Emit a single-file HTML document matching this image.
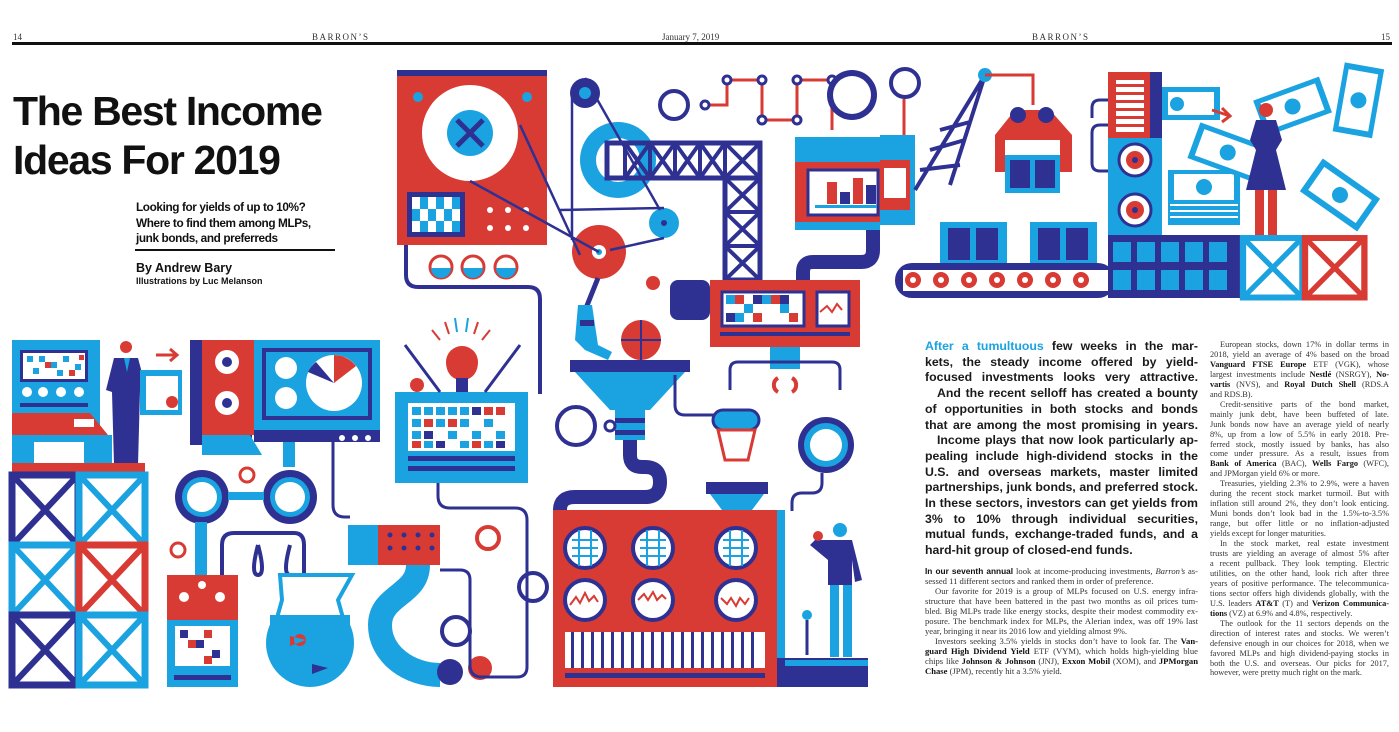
<!DOCTYPE html>
<html><head><meta charset="utf-8">
<style>
html,body{margin:0;padding:0;background:#fff;}
body{width:1399px;height:732px;position:relative;overflow:hidden;font-family:"Liberation Serif",serif;color:#1a1a1a;}
.a{position:absolute;}
.hd{font-size:9px;font-family:"Liberation Serif",serif;color:#333;}
.title{left:13px;top:87px;font-family:"Liberation Sans",sans-serif;font-weight:bold;font-size:41px;line-height:49px;letter-spacing:-1.3px;color:#111;}
.sub{left:136px;top:200px;font-family:"Liberation Sans",sans-serif;font-weight:bold;font-size:11.8px;line-height:15.5px;letter-spacing:-0.4px;color:#111;}
.lead{left:925px;top:339px;width:273px;font-family:"Liberation Sans",sans-serif;font-weight:bold;font-size:12.3px;line-height:15.7px;color:#1a1a1a;}
.lead div,.sm div{text-align:justify;text-align-last:justify;white-space:nowrap;}
.lead div.l,.sm div.l{text-align-last:left;}
.sm{font-size:8.9px;line-height:9.95px;color:#333;}
.sr{font-size:8.3px;}
.ind{padding-left:10px;}
b{font-weight:bold;color:#111;}
</style></head><body>
<div class="a hd" style="left:13px;top:32px;">14</div>
<div class="a hd" style="left:312px;top:32px;letter-spacing:1.5px;">BARRON’S</div>
<div class="a hd" style="left:662px;top:32px;">January 7, 2019</div>
<div class="a hd" style="left:1032px;top:32px;letter-spacing:1.5px;">BARRON’S</div>
<div class="a hd" style="left:1381px;top:32px;">15</div>
<div class="a" style="left:12px;top:42px;width:1380px;height:3px;background:#111;"></div>

<div class="a title">The Best Income<br>Ideas For 2019</div>
<div class="a sub">Looking for yields of up to 10%?<br>Where to find them among MLPs,<br>junk bonds, and preferreds</div>
<div class="a" style="left:135px;top:249px;width:200px;height:2px;background:#111;"></div>
<div class="a" style="left:136px;top:261px;font-family:'Liberation Sans',sans-serif;font-weight:bold;font-size:12.5px;color:#111;">By Andrew Bary</div>
<div class="a" style="left:136px;top:276px;font-family:'Liberation Sans',sans-serif;font-weight:bold;font-size:9px;color:#111;">Illustrations by Luc Melanson</div>

<svg class="a" style="left:0;top:0" width="1399" height="732" viewBox="0 0 1399 732">
<defs>
<g id="xc"><rect x="0" y="0" width="66" height="70" fill="none" stroke-width="7"/><path d="M3 3L63 67M63 3L3 67" stroke-width="6"/></g>
</defs>
<rect x="12" y="340" width="88" height="125" fill="#1aa3e0"/>
<rect x="20" y="350" width="68" height="32" fill="#2e3192"/>
<rect x="23" y="353" width="62" height="26" fill="#fff"/>
<g fill="#1aa3e0"><rect x="27" y="356" width="6" height="6"/><rect x="39" y="356" width="6" height="6"/><rect x="51" y="362" width="6" height="6"/><rect x="63" y="356" width="6" height="6"/><rect x="33" y="368" width="6" height="6"/><rect x="57" y="370" width="6" height="6"/><rect x="75" y="364" width="6" height="6"/></g>
<g fill="#d83a34"><rect x="45" y="362" width="6" height="6"/><rect x="69" y="370" width="6" height="6"/><rect x="79" y="355" width="5" height="5"/></g>
<g fill="#fff"><circle cx="27" cy="392" r="5"/><circle cx="43" cy="392" r="5"/><circle cx="61" cy="392" r="5"/><circle cx="79" cy="392" r="5"/></g>
<rect x="20" y="403" width="68" height="4" fill="#2e3192"/>
<polygon points="12,413 90,413 108,435 12,435" fill="#d83a34"/>
<rect x="12" y="435" width="100" height="30" fill="#1aa3e0"/>
<rect x="34" y="442" width="50" height="23" fill="#fff"/>
<rect x="74" y="419" width="20" height="8" fill="#fff"/>
<circle cx="126" cy="347" r="6" fill="#d83a34"/>
<polygon points="114,358 138,358 146,388 140,390 138,465 114,465 112,392 106,390" fill="#2e3192"/>
<polygon points="124,358 130,358 127,372" fill="#1aa3e0"/>
<path d="M156 355h20M170 349l7 6-7 6" stroke="#d83a34" stroke-width="3" fill="none"/>
<rect x="140" y="370" width="42" height="45" fill="#1aa3e0"/><rect x="146" y="376" width="32" height="34" fill="#fff"/>
<circle cx="172" cy="402" r="6" fill="#d83a34"/>
<rect x="12" y="463" width="133" height="12" fill="#d83a34"/>
<g transform="translate(12,475)"><use href="#xc" stroke="#2e3192"/></g>
<g transform="translate(79,475)"><use href="#xc" stroke="#1aa3e0"/></g>
<g transform="translate(12,545)"><use href="#xc" stroke="#1aa3e0"/></g>
<g transform="translate(79,545)"><use href="#xc" stroke="#d83a34"/></g>
<g transform="translate(12,615)"><use href="#xc" stroke="#2e3192"/></g>
<g transform="translate(79,615)"><use href="#xc" stroke="#1aa3e0"/></g>
<rect x="190" y="340" width="62" height="105" fill="#2e3192"/>
<rect x="202" y="340" width="52" height="95" fill="#d83a34"/>
<circle cx="227" cy="362" r="12" fill="#fff"/><circle cx="227" cy="362" r="5" fill="#2e3192"/>
<circle cx="227" cy="403" r="12" fill="#fff"/><circle cx="227" cy="403" r="5" fill="#2e3192"/>
<rect x="254" y="340" width="126" height="95" fill="#1aa3e0"/>
<rect x="262" y="348" width="110" height="72" fill="#2e3192"/><rect x="266" y="352" width="102" height="64" fill="#1aa3e0"/>
<circle cx="334" cy="383" r="28" fill="#fff"/><path d="M334 383L334 355A28 28 0 0 1 356 366Z" fill="#d83a34"/><path d="M334 383L308 372A28 28 0 0 1 316 362Z" fill="#2e3192"/>
<circle cx="286" cy="368" r="11" fill="#fff"/><circle cx="286" cy="398" r="11" fill="#fff"/>
<rect x="254" y="430" width="126" height="12" fill="#2e3192"/>
<polygon points="202,435 250,435 262,455 202,455" fill="#1aa3e0"/>
<g fill="#fff"><circle cx="342" cy="438" r="3"/><circle cx="355" cy="438" r="3"/><circle cx="368" cy="438" r="3"/></g>
<rect x="283" y="442" width="12" height="25" fill="#1aa3e0"/>
<circle cx="202" cy="497" r="27" fill="#2e3192"/><circle cx="202" cy="497" r="20" fill="#1aa3e0"/><circle cx="202" cy="497" r="15" fill="#fff"/>
<circle cx="290" cy="497" r="27" fill="#2e3192"/><circle cx="290" cy="497" r="20" fill="#1aa3e0"/><circle cx="290" cy="497" r="15" fill="#fff"/>
<rect x="228" y="492" width="36" height="8" fill="#1aa3e0"/>
<circle cx="247" cy="475" r="7" fill="none" stroke="#d83a34" stroke-width="3"/>
<rect x="195" y="522" width="12" height="55" fill="#1aa3e0"/>
<circle cx="178" cy="550" r="7" fill="none" stroke="#d83a34" stroke-width="3"/>
<rect x="167" y="575" width="71" height="45" fill="#d83a34"/>
<g fill="#fff"><circle cx="184" cy="597" r="5"/><circle cx="220" cy="597" r="5"/><circle cx="202" cy="585" r="4"/></g>
<rect x="167" y="620" width="71" height="67" fill="#1aa3e0"/>
<rect x="175" y="626" width="55" height="40" fill="#fff"/>
<g fill="#2e3192"><rect x="180" y="630" width="8" height="8"/><rect x="196" y="640" width="8" height="8"/><rect x="212" y="650" width="8" height="8"/></g>
<g fill="#d83a34"><rect x="188" y="640" width="8" height="8"/><rect x="204" y="630" width="8" height="8"/><rect x="204" y="656" width="8" height="8"/></g>
<rect x="174" y="675" width="57" height="5" fill="#2e3192"/>
<path d="M222 575V545q0-12 12-12h60q10 0 10 12v55M258 545q-8 30 0 30t0-30M290 545q-8 30 0 30" fill="none" stroke="#2e3192" stroke-width="4"/>
<circle cx="310" cy="643" r="44" fill="#1aa3e0"/>
<rect x="282" y="575" width="66" height="35" fill="#fff"/>
<polygon points="280,575 352,575 338,600 345,625 275,625 282,600" fill="#fff" stroke="#1aa3e0" stroke-width="4"/>
<rect x="270" y="615" width="80" height="10" fill="#1aa3e0"/>
<path d="M290 636l16 4-16 6z M306 640a6 6 0 1 0 0 .1" fill="#d83a34"/>
<path d="M312 664l16 4-16 6z" fill="#2e3192"/>
<rect x="348" y="525" width="30" height="40" fill="#1aa3e0"/>
<rect x="378" y="525" width="62" height="40" fill="#d83a34"/>
<g fill="#2e3192"><circle cx="390" cy="535" r="2.5"/><circle cx="404" cy="535" r="2.5"/><circle cx="418" cy="535" r="2.5"/><circle cx="432" cy="535" r="2.5"/><circle cx="390" cy="548" r="2.5"/><circle cx="404" cy="548" r="2.5"/><circle cx="418" cy="548" r="2.5"/><circle cx="432" cy="548" r="2.5"/></g>
<path d="M418 565c0 30-38 30-38 60s30 50 60 50" fill="none" stroke="#1aa3e0" stroke-width="24"/>
<circle cx="450" cy="672" r="13" fill="#2e3192"/>
<circle cx="480" cy="668" r="12" fill="#d83a34"/>
<circle cx="456" cy="631" r="14" fill="#fff" stroke="#2e3192" stroke-width="4"/>
<circle cx="533" cy="587" r="14" fill="#fff" stroke="#2e3192" stroke-width="4"/>
<circle cx="488" cy="538" r="11" fill="#fff" stroke="#d83a34" stroke-width="4"/>
<path d="M440 570h20q10 0 10 10v85q0 12 12 12h35q10 0 10-10V520q0-12-12-12H450q-12 0-12-12V483M333 440v65q0 12 12 12h5" fill="none" stroke="#2e3192" stroke-width="3"/>
<rect x="395" y="392" width="133" height="91" fill="#1aa3e0"/>
<rect x="408" y="403" width="107" height="48" fill="#fff"/>
<g fill="#1aa3e0"><rect x="412" y="407" width="9" height="8"/><rect x="424" y="407" width="9" height="8"/><rect x="436" y="407" width="9" height="8"/><rect x="448" y="407" width="9" height="8"/><rect x="460" y="407" width="9" height="8"/><rect x="412" y="419" width="9" height="8"/><rect x="436" y="419" width="9" height="8"/><rect x="460" y="419" width="9" height="8"/><rect x="484" y="419" width="9" height="8"/><rect x="412" y="431" width="9" height="8"/><rect x="448" y="431" width="9" height="8"/><rect x="472" y="431" width="9" height="8"/><rect x="496" y="431" width="9" height="8"/><rect x="424" y="441" width="9" height="7"/><rect x="460" y="441" width="9" height="7"/><rect x="484" y="441" width="9" height="7"/></g>
<g fill="#d83a34"><rect x="412" y="441" width="9" height="7"/><rect x="448" y="419" width="9" height="8"/><rect x="424" y="419" width="9" height="8"/><rect x="484" y="407" width="9" height="8"/><rect x="496" y="407" width="9" height="8"/><rect x="472" y="441" width="9" height="7"/></g>
<g fill="#2e3192"><rect x="472" y="407" width="9" height="8"/><rect x="424" y="431" width="9" height="8"/><rect x="436" y="441" width="9" height="7"/><rect x="496" y="441" width="9" height="7"/></g>
<rect x="408" y="456" width="107" height="5" fill="#2e3192"/><rect x="408" y="466" width="107" height="5" fill="#2e3192"/>
<path d="M462 380c-12 0-16-10-16-18a16 16 0 0 1 32 0c0 8-4 18-16 18z" fill="#d83a34"/>
<rect x="456" y="378" width="12" height="14" fill="#2e3192"/>
<rect x="410" y="378" width="14" height="14" rx="7" fill="#d83a34"/>
<path d="M440 392L405 345M485 392L520 345" stroke="#2e3192" stroke-width="3"/>
<g stroke="#d83a34" stroke-width="2"><path d="M432 330l8 10M445 322l4 12M478 322l-4 12M490 330l-8 10"/></g>
<g stroke="#1aa3e0" stroke-width="2"><path d="M455 318l2 14M468 318l-2 14"/></g>
<rect x="397" y="70" width="150" height="6" fill="#2e3192"/>
<rect x="397" y="76" width="150" height="169" fill="#d83a34"/>
<circle cx="470" cy="133" r="48" fill="#fff"/><circle cx="470" cy="133" r="23" fill="#1aa3e0"/>
<path d="M457 120L483 146M483 120L457 146" stroke="#2e3192" stroke-width="5"/>
<circle cx="418" cy="97" r="5" fill="#1aa3e0"/><circle cx="527" cy="97" r="5" fill="#1aa3e0"/>
<rect x="407" y="192" width="58" height="45" fill="#2e3192"/><rect x="412" y="197" width="48" height="35" fill="#1aa3e0"/>
<g fill="#fff"><rect x="412" y="197" width="8" height="12"/><rect x="428" y="197" width="8" height="12"/><rect x="444" y="197" width="8" height="12"/><rect x="420" y="209" width="8" height="12"/><rect x="436" y="209" width="8" height="12"/><rect x="452" y="209" width="8" height="12"/><rect x="412" y="221" width="8" height="11"/><rect x="428" y="221" width="8" height="11"/><rect x="444" y="221" width="8" height="11"/></g>
<g fill="#fff"><circle cx="490" cy="210" r="3"/><circle cx="508" cy="210" r="3"/><circle cx="526" cy="210" r="3"/><circle cx="490" cy="228" r="3"/><circle cx="508" cy="228" r="3"/><circle cx="526" cy="228" r="3"/></g>
<g fill="#fff" stroke="#d83a34" stroke-width="3"><circle cx="441" cy="267" r="11"/><circle cx="473" cy="267" r="11"/><circle cx="506" cy="267" r="11"/></g>
<g fill="#1aa3e0"><path d="M431 268h20a10 10 0 0 1-20 0z"/><path d="M463 268h20a10 10 0 0 1-20 0z"/><path d="M496 268h20a10 10 0 0 1-20 0z"/></g>
<path d="M406 245v30q0 12 12 12h110q12 0 12 12v95" fill="none" stroke="#2e3192" stroke-width="4"/>
<circle cx="585" cy="93" r="15" fill="#2e3192"/><circle cx="585" cy="93" r="6" fill="#1aa3e0"/>
<circle cx="618" cy="160" r="38" fill="#1aa3e0"/><circle cx="618" cy="160" r="22" fill="#fff"/>
<circle cx="599" cy="252" r="27" fill="#d83a34"/><circle cx="599" cy="252" r="7" fill="#fff"/><circle cx="599" cy="252" r="3" fill="#1aa3e0"/>
<circle cx="664" cy="223" r="15" fill="#1aa3e0"/><circle cx="664" cy="223" r="3" fill="#2e3192"/>
<path d="M470 181L599 252M520 125L580 255M585 78L660 210M572 93V240M610 250L664 238M560 210L664 208" stroke="#2e3192" stroke-width="2.5" fill="none"/>
<rect x="607" y="143" width="153" height="35" fill="none" stroke="#2e3192" stroke-width="5"/>
<path d="M625 143v35M650 143v35M675 143v35M700 143v35M725 143v35M625 143l25 35M650 143l-25 35M650 143l25 35M675 143l-25 35M675 143l25 35M700 143l-25 35M700 143l25 35M725 143l-25 35M725 143l35 35M760 143l-35 35" stroke="#2e3192" stroke-width="4"/>
<rect x="725" y="178" width="35" height="102" fill="none" stroke="#2e3192" stroke-width="5"/>
<path d="M725 178l35 34M760 178l-35 34M725 212l35 34M760 212l-35 34M725 246l35 34M760 246l-35 34M725 212h35M725 246h35" stroke="#2e3192" stroke-width="4"/>
<path d="M598 278l-12 30" stroke="#2e3192" stroke-width="5"/>
<polygon points="578,305 592,305 598,345 612,352 608,360 585,350 575,340" fill="#1aa3e0"/>
<rect x="580" y="320" width="14" height="6" fill="#2e3192"/>
<path d="M705 105h22V80h35v40h35V80h35v50" fill="none" stroke="#d83a34" stroke-width="3"/>
<g fill="#fff" stroke="#2e3192" stroke-width="3"><circle cx="705" cy="105" r="4"/><circle cx="727" cy="80" r="4"/><circle cx="762" cy="80" r="4"/><circle cx="762" cy="120" r="4"/><circle cx="797" cy="120" r="4"/><circle cx="797" cy="80" r="4"/><circle cx="832" cy="80" r="4"/></g>
<circle cx="674" cy="105" r="14" fill="#fff" stroke="#2e3192" stroke-width="4"/>
<circle cx="852" cy="95" r="25" fill="#2e3192"/><circle cx="852" cy="95" r="19" fill="#fff"/>
<circle cx="905" cy="83" r="14" fill="#fff" stroke="#2e3192" stroke-width="4"/>
<rect x="795" y="137" width="85" height="93" fill="#1aa3e0"/>
<rect x="795" y="162" width="85" height="60" fill="#d83a34"/>
<rect x="808" y="170" width="70" height="45" fill="#fff" stroke="#2e3192" stroke-width="3"/>
<g fill="#d83a34"><rect x="827" y="182" width="10" height="22"/><rect x="853" y="178" width="10" height="26"/></g>
<g fill="#2e3192"><rect x="840" y="192" width="10" height="12"/><rect x="866" y="185" width="10" height="19"/></g>
<rect x="815" y="205" width="62" height="3" fill="#1aa3e0"/>
<path d="M873 230v20q0 12-12 12h-48q-10 0-10 10v10" fill="none" stroke="#2e3192" stroke-width="14"/>
<rect x="670" y="280" width="40" height="40" rx="8" fill="#2e3192"/>
<rect x="710" y="280" width="150" height="67" fill="#d83a34"/>
<rect x="722" y="292" width="82" height="34" fill="#fff" stroke="#2e3192" stroke-width="3"/>
<g fill="#1aa3e0"><rect x="726" y="295" width="9" height="9"/><rect x="744" y="304" width="9" height="9"/><rect x="762" y="295" width="9" height="9"/><rect x="780" y="304" width="9" height="9"/><rect x="735" y="313" width="9" height="9"/></g>
<g fill="#d83a34"><rect x="735" y="295" width="9" height="9"/><rect x="753" y="313" width="9" height="9"/><rect x="771" y="295" width="9" height="9"/><rect x="789" y="313" width="9" height="9"/></g>
<g fill="#2e3192"><rect x="726" y="313" width="9" height="9"/><rect x="753" y="295" width="9" height="9"/><rect x="780" y="295" width="9" height="9"/></g>
<rect x="817" y="292" width="32" height="34" fill="#fff" stroke="#2e3192" stroke-width="3"/>
<path d="M820 312l7-6 5 6 5-8 5 6" stroke="#d83a34" stroke-width="2" fill="none"/>
<rect x="720" y="332" width="130" height="4" fill="#2e3192"/>
<circle cx="653" cy="283" r="7" fill="#d83a34"/>
<rect x="770" y="347" width="30" height="22" fill="#1aa3e0"/>
<path d="M730 390v-20q0-8 8-8h94q8 0 8 8v20" fill="none" stroke="#2e3192" stroke-width="3"/>
<path d="M778 378a8 8 0 0 0 0 14M792 378a8 8 0 0 1 0 14" stroke="#d83a34" stroke-width="4" fill="none"/>
<circle cx="641" cy="340" r="20" fill="#d83a34"/><path d="M621 340h40M641 320v40" stroke="#2e3192" stroke-width="2"/>
<rect x="570" y="360" width="120" height="12" fill="#2e3192"/>
<polygon points="575,372 685,372 650,410 610,410" fill="#1aa3e0"/>
<rect x="615" y="410" width="30" height="30" fill="#1aa3e0"/><rect x="615" y="418" width="30" height="5" fill="#2e3192"/><rect x="615" y="430" width="30" height="5" fill="#2e3192"/>
<path d="M630 440v15q0 12 12 12h3q15 0 15 15t-15 15h-70q-15 0-15 13v13" fill="none" stroke="#2e3192" stroke-width="14"/>
<circle cx="576" cy="426" r="19" fill="#fff" stroke="#2e3192" stroke-width="4"/>
<circle cx="610" cy="426" r="5" fill="#fff" stroke="#2e3192" stroke-width="3"/>
<path d="M675 375v30q0 10 10 10h30" fill="none" stroke="#2e3192" stroke-width="3"/>
<rect x="713" y="410" width="46" height="20" rx="10" fill="#1aa3e0" stroke="#2e3192" stroke-width="3"/>
<polygon points="718,430 755,430 748,460 725,460" fill="#fff" stroke="#d83a34" stroke-width="3"/>
<rect x="706" y="482" width="62" height="12" fill="#2e3192"/>
<polygon points="710,494 764,494 752,510 722,510" fill="#1aa3e0"/>
<circle cx="826" cy="445" r="28" fill="#2e3192"/><circle cx="826" cy="445" r="22" fill="#1aa3e0"/><circle cx="826" cy="445" r="16" fill="#fff"/>
<path d="M822 473v10q0 10-10 10h-10q-10 0-10 10v8" fill="none" stroke="#2e3192" stroke-width="3"/>
<rect x="553" y="510" width="224" height="177" fill="#d83a34"/>
<g fill="#fff" stroke="#2e3192" stroke-width="4"><circle cx="585" cy="548" r="20"/><circle cx="653" cy="548" r="20"/><circle cx="736" cy="548" r="20"/><circle cx="585" cy="600" r="20"/><circle cx="653" cy="600" r="20"/><circle cx="736" cy="600" r="20"/></g>
<g stroke="#1aa3e0" stroke-width="2"><path d="M572 540h26M572 548h26M572 556h26M579 530v36M591 530v36M640 540h26M640 548h26M640 556h26M647 530v36M659 530v36M723 540h26M723 548h26M723 556h26M730 530v36M742 530v36"/></g>
<g stroke="#d83a34" stroke-width="2" fill="none"><path d="M570 605l6-8 4 6 5-10 4 8 5-5 4 6M638 600l6-6 4 6 5-8 4 8 5-5 4 4M721 598l6 6 4-6 5 8 4-8 5 6 4-6"/></g>
<rect x="565" y="632" width="200" height="36" fill="#fff"/>
<g fill="#2e3192"><rect x="571" y="632" width="3" height="36"/><rect x="581" y="632" width="3" height="36"/><rect x="591" y="632" width="3" height="36"/><rect x="601" y="632" width="3" height="36"/><rect x="611" y="632" width="3" height="36"/><rect x="621" y="632" width="3" height="36"/><rect x="631" y="632" width="3" height="36"/><rect x="641" y="632" width="3" height="36"/><rect x="651" y="632" width="3" height="36"/><rect x="661" y="632" width="3" height="36"/><rect x="671" y="632" width="3" height="36"/><rect x="681" y="632" width="3" height="36"/><rect x="691" y="632" width="3" height="36"/><rect x="701" y="632" width="3" height="36"/><rect x="711" y="632" width="3" height="36"/><rect x="721" y="632" width="3" height="36"/><rect x="731" y="632" width="3" height="36"/><rect x="741" y="632" width="3" height="36"/><rect x="751" y="632" width="3" height="36"/></g>
<rect x="565" y="673" width="200" height="5" fill="#2e3192"/>
<rect x="777" y="510" width="8" height="177" fill="#1aa3e0"/>
<rect x="777" y="658" width="91" height="29" fill="#2e3192"/><rect x="785" y="660" width="83" height="6" fill="#1aa3e0"/>
<circle cx="840" cy="530" r="7" fill="#1aa3e0"/>
<polygon points="828,540 852,540 862,580 855,582 852,560 852,585 828,585 828,560 810,545 815,540" fill="#2e3192"/>
<rect x="830" y="585" width="9" height="72" fill="#1aa3e0"/><rect x="843" y="585" width="9" height="72" fill="#1aa3e0"/>
<circle cx="818" cy="536" r="5" fill="#d83a34"/>
<circle cx="807" cy="615" r="5" fill="#1aa3e0"/><path d="M807 620v35" stroke="#2e3192" stroke-width="3"/>
<path d="M904 99v45" stroke="#d83a34" stroke-width="3"/>
<rect x="880" y="135" width="35" height="90" fill="#1aa3e0"/><rect x="880" y="160" width="30" height="50" fill="#d83a34"/><rect x="884" y="168" width="22" height="30" fill="#fff"/>
<path d="M915 190L985 75M950 185L985 75M920 170l40-5M930 150l35-10M940 130l30-8" stroke="#2e3192" stroke-width="4"/>
<circle cx="985" cy="75" r="7" fill="#1aa3e0"/>
<path d="M985 75h48v30" stroke="#d83a34" stroke-width="3" fill="none"/>
<polygon points="995,135 1015,110 1050,110 1072,135 1072,172 1060,172 1060,140 1005,140 1005,172 995,172" fill="#d83a34"/>
<circle cx="1018" cy="115" r="8" fill="#2e3192"/><circle cx="1046" cy="115" r="8" fill="#2e3192"/>
<rect x="1005" y="155" width="55" height="38" fill="#1aa3e0"/><rect x="1010" y="160" width="20" height="28" fill="#2e3192"/><rect x="1035" y="160" width="20" height="28" fill="#2e3192"/>
<rect x="940" y="222" width="67" height="41" fill="#1aa3e0"/><rect x="948" y="228" width="22" height="32" fill="#2e3192"/><rect x="976" y="228" width="22" height="32" fill="#2e3192"/>
<rect x="1030" y="222" width="67" height="41" fill="#1aa3e0"/><rect x="1038" y="228" width="22" height="32" fill="#2e3192"/><rect x="1066" y="228" width="22" height="32" fill="#2e3192"/>
<rect x="895" y="263" width="220" height="35" rx="17" fill="#2e3192"/><rect x="903" y="270" width="210" height="21" fill="#fff"/>
<g fill="#d83a34"><circle cx="913" cy="280" r="8"/><circle cx="941" cy="280" r="8"/><circle cx="969" cy="280" r="8"/><circle cx="997" cy="280" r="8"/><circle cx="1025" cy="280" r="8"/><circle cx="1053" cy="280" r="8"/><circle cx="1081" cy="280" r="8"/></g>
<g fill="#fff"><circle cx="913" cy="280" r="3"/><circle cx="941" cy="280" r="3"/><circle cx="969" cy="280" r="3"/><circle cx="997" cy="280" r="3"/><circle cx="1025" cy="280" r="3"/><circle cx="1053" cy="280" r="3"/><circle cx="1081" cy="280" r="3"/></g>
<rect x="1108" y="72" width="54" height="66" fill="#d83a34"/><rect x="1150" y="72" width="12" height="66" fill="#2e3192"/>
<rect x="1116" y="80" width="28" height="52" fill="#fff"/>
<g fill="#d83a34"><rect x="1116" y="84" width="28" height="3"/><rect x="1116" y="92" width="28" height="3"/><rect x="1116" y="100" width="28" height="3"/><rect x="1116" y="108" width="28" height="3"/><rect x="1116" y="116" width="28" height="3"/><rect x="1116" y="124" width="28" height="3"/></g>
<rect x="1108" y="138" width="54" height="97" fill="#1aa3e0"/>
<circle cx="1135" cy="160" r="16" fill="#fff" stroke="#2e3192" stroke-width="3"/><circle cx="1135" cy="160" r="9" fill="#d83a34"/><circle cx="1135" cy="160" r="3" fill="#2e3192"/>
<circle cx="1135" cy="210" r="16" fill="#fff" stroke="#2e3192" stroke-width="3"/><circle cx="1135" cy="210" r="9" fill="#d83a34"/><circle cx="1135" cy="210" r="3" fill="#2e3192"/>
<path d="M1108 100h-8q-8 0-8 8v10M1108 125h-8q-8 0-8 8v30q0 8 8 8h8" fill="none" stroke="#2e3192" stroke-width="3"/>
<rect x="1108" y="235" width="132" height="63" fill="#2e3192"/>
<g fill="#1aa3e0"><rect x="1113" y="242" width="18" height="20"/><rect x="1137" y="242" width="18" height="20"/><rect x="1161" y="242" width="18" height="20"/><rect x="1185" y="242" width="18" height="20"/><rect x="1209" y="242" width="18" height="20"/><rect x="1113" y="270" width="18" height="20"/><rect x="1137" y="270" width="18" height="20"/><rect x="1161" y="270" width="18" height="20"/><rect x="1185" y="270" width="18" height="20"/><rect x="1209" y="270" width="18" height="20"/></g>
<g transform="translate(1243,238) scale(0.9,0.85)"><use href="#xc" stroke="#1aa3e0"/></g>
<g transform="translate(1305,238) scale(0.9,0.85)"><use href="#xc" stroke="#d83a34"/></g>
<g><rect x="1162" y="87" width="58" height="33" fill="#1aa3e0"/><rect x="1168" y="92" width="46" height="23" fill="#fff"/><circle cx="1177" cy="104" r="7" fill="#1aa3e0"/></g>
<g><rect x="1168" y="170" width="72" height="55" fill="#1aa3e0"/><rect x="1174" y="174" width="60" height="26" fill="#fff"/><circle cx="1204" cy="187" r="8" fill="#1aa3e0"/>
<g fill="#fff"><rect x="1170" y="204" width="68" height="2"/><rect x="1170" y="210" width="68" height="2"/><rect x="1170" y="216" width="68" height="2"/></g></g>
<g transform="rotate(20 1218 150)"><rect x="1192" y="130" width="72" height="38" fill="#1aa3e0"/><rect x="1198" y="135" width="60" height="28" fill="#fff"/><circle cx="1228" cy="149" r="8" fill="#1aa3e0"/></g>
<g transform="rotate(-20 1280 110)"><rect x="1258" y="92" width="70" height="38" fill="#1aa3e0"/><rect x="1264" y="97" width="58" height="28" fill="#fff"/><circle cx="1293" cy="111" r="8" fill="#1aa3e0"/></g>
<g transform="rotate(10 1385 105)"><rect x="1338" y="70" width="40" height="70" fill="#1aa3e0"/><rect x="1343" y="76" width="30" height="58" fill="#fff"/><circle cx="1358" cy="105" r="8" fill="#1aa3e0"/></g>
<g transform="rotate(35 1340 195)"><rect x="1305" y="175" width="70" height="40" fill="#1aa3e0"/><rect x="1311" y="181" width="58" height="28" fill="#fff"/><circle cx="1340" cy="195" r="8" fill="#1aa3e0"/></g>
<path d="M1212 110l18 6M1222 108l8 8-8 6" stroke="#d83a34" stroke-width="3" fill="none"/>
<circle cx="1266" cy="110" r="7" fill="#d83a34"/>
<polygon points="1256,120 1276,120 1282,140 1276,150 1286,190 1246,190 1256,150 1250,140" fill="#2e3192"/>
<rect x="1255" y="190" width="9" height="45" fill="#d83a34"/><rect x="1268" y="190" width="9" height="45" fill="#d83a34"/>
</svg>

<div class="a lead">
<div><span style="color:#1aa3e0">After a tumultuous</span> few weeks in the mar-</div>
<div>kets, the steady income offered by yield-</div>
<div>focused investments looks very attractive.</div>
<div style="padding-left:12px">And the recent selloff has created a bounty</div>
<div>of opportunities in both stocks and bonds</div>
<div>that are among the most promising in years.</div>
<div style="padding-left:12px">Income plays that now look particularly ap-</div>
<div>pealing include high-dividend stocks in the</div>
<div>U.S. and overseas markets, master limited</div>
<div>partnerships, junk bonds, and preferred stock.</div>
<div>In these sectors, investors can get yields from</div>
<div>3% to 10% through individual securities,</div>
<div>mutual funds, exchange-traded funds, and a</div>
<div class="l">hard-hit group of closed-end funds.</div>
</div>

<div class="a sm" style="left:925px;top:567px;width:273px;font-size:8.6px;">
<div><b style="font-family:'Liberation Sans',sans-serif;font-size:8.3px">In our seventh annual</b> look at income-producing investments, <i>Barron’s</i> as-</div>
<div class="l">sessed 11 different sectors and ranked them in order of preference.</div>
<div class="ind">Our favorite for 2019 is a group of MLPs focused on U.S. energy infra-</div>
<div>structure that have been battered in the past two months as oil prices tum-</div>
<div>bled. Big MLPs trade like energy stocks, despite their modest commodity ex-</div>
<div>posure. The benchmark index for MLPs, the Alerian index, was off 19% last</div>
<div class="l">year, bringing it near its 2016 low and yielding almost 9%.</div>
<div class="ind">Investors seeking 3.5% yields in stocks don’t have to look far. The <b>Van-</b></div>
<div><b>guard High Dividend Yield</b> ETF (VYM), which holds high-yielding blue</div>
<div>chips like <b>Johnson &amp; Johnson</b> (JNJ), <b>Exxon Mobil</b> (XOM), and <b>JPMorgan</b></div>
<div class="l"><b>Chase</b> (JPM), recently hit a 3.5% yield.</div>
</div>

<div class="a sm sr" style="left:1210px;top:340px;width:179px;">
<div class="ind">European stocks, down 17% in dollar terms in</div>
<div>2018, yield an average of 4% based on the broad</div>
<div><b>Vanguard FTSE Europe</b> ETF (VGK), whose</div>
<div>largest investments include <b>Nestlé</b> (NSRGY), <b>No-</b></div>
<div><b>vartis</b> (NVS), and <b>Royal Dutch Shell</b> (RDS.A</div>
<div class="l">and RDS.B).</div>
<div class="ind">Credit-sensitive parts of the bond market,</div>
<div>mainly junk debt, have been buffeted of late.</div>
<div>Junk bonds now have an average yield of nearly</div>
<div>8%, up from a low of 5.5% in early 2018. Pre-</div>
<div>ferred stock, mostly issued by banks, has also</div>
<div>come under pressure. As a result, issues from</div>
<div><b>Bank of America</b> (BAC), <b>Wells Fargo</b> (WFC),</div>
<div class="l">and JPMorgan yield 6% or more.</div>
<div class="ind">Treasuries, yielding 2.3% to 2.9%, were a haven</div>
<div>during the recent stock market turmoil. But with</div>
<div>inflation still around 2%, they don’t look enticing.</div>
<div>Muni bonds don’t look bad in the 1.5%-to-3.5%</div>
<div>range, but offer little or no inflation-adjusted</div>
<div class="l">yields except for longer maturities.</div>
<div class="ind">In the stock market, real estate investment</div>
<div>trusts are yielding an average of almost 5% after</div>
<div>a recent pullback. They look tempting. Electric</div>
<div>utilities, on the other hand, look rich after three</div>
<div>years of positive performance. The telecommunica-</div>
<div>tions sector offers high dividends globally, with the</div>
<div>U.S. leaders <b>AT&amp;T</b> (T) and <b>Verizon Communica-</b></div>
<div class="l"><b>tions</b> (VZ) at 6.9% and 4.8%, respectively.</div>
<div class="ind">The outlook for the 11 sectors depends on the</div>
<div>direction of interest rates and stocks. We weren’t</div>
<div>defensive enough in our choices for 2018, when we</div>
<div>favored MLPs and high dividend-paying stocks in</div>
<div>both the U.S. and overseas. Our picks for 2017,</div>
<div class="l">however, were pretty much right on the mark.</div>
</div>
</body></html>
